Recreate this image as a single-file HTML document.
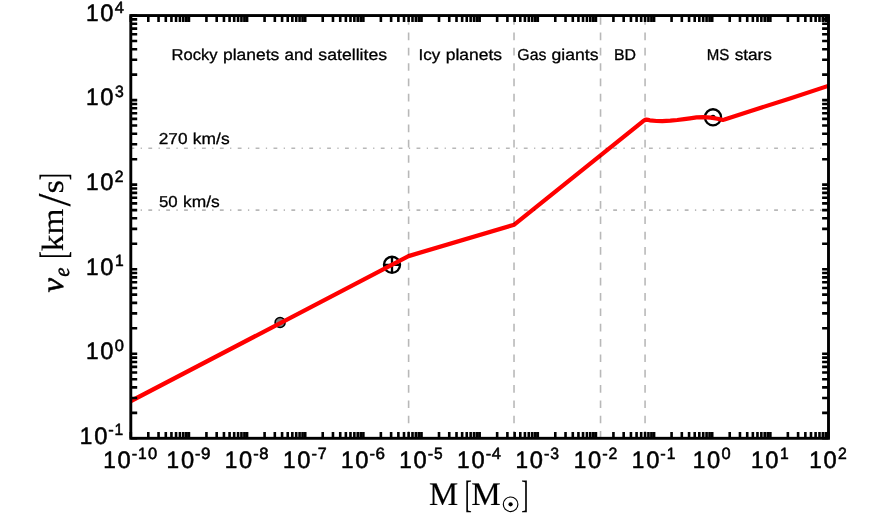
<!DOCTYPE html>
<html><head><meta charset="utf-8"><title>Escape velocity vs mass</title>
<style>
html,body{margin:0;padding:0;background:#fff;}
svg{display:block;will-change:transform;}
text{text-rendering:geometricPrecision;font-kerning:none;fill:#000;stroke:#000;stroke-width:.55px;stroke-linejoin:round;}
.sa{font-family:"Liberation Sans",sans-serif;}
.an text{stroke-width:.3px;}
.se{font-family:"Liberation Serif",serif;stroke-width:.15px;}
.si{font-family:"Liberation Serif",serif;font-style:italic;stroke-width:.45px;}
</style></head><body>
<svg width="872" height="528" viewBox="0 0 872 528">
<defs><clipPath id="ax"><rect x="130.8" y="15.55" width="697.70" height="422.75"/></clipPath></defs>
<rect width="872" height="528" fill="#fff"/>
<circle cx="280.1" cy="322.5" r="5.0" fill="#808080" stroke="#000" stroke-width="1.55"/>
<g fill="none" stroke="#000" stroke-width="2.3"><circle cx="392.0" cy="264.8" r="8.05"/><path d="M384.0,264.8H400.0M392.0,256.8V272.8"/></g>
<circle cx="713.0" cy="117.3" r="8.05" fill="none" stroke="#000" stroke-width="2.3"/><circle cx="713.0" cy="117.3" r="2.6" fill="#000"/>
<path d="M127.80,402.67 L408.50,256.10 L514.25,224.70 L642.90,121.30 L645.20,119.90 L646.30,119.60 L648.00,119.90 L649.80,120.30 L656.60,121.00 L662.20,121.20 L670.40,120.70 L677.30,120.00 L684.20,119.10 L690.00,118.30 L696.50,117.40 L703.80,117.15 L710.60,117.65 L717.50,118.75 L721.50,119.60 L723.00,119.85 L724.50,119.50 L750.00,111.20 L790.00,98.50 L831.50,84.81" fill="none" stroke="#f00" stroke-width="4.25" stroke-linejoin="round" clip-path="url(#ax)"/>
<path d="M408.61,438.7V15.55" stroke="#000" stroke-opacity="0.28" stroke-width="1.6" fill="none" stroke-dasharray="7.664 7.664"/>
<path d="M514.02,438.7V15.55" stroke="#000" stroke-opacity="0.28" stroke-width="1.6" fill="none" stroke-dasharray="7.664 7.664"/>
<path d="M600.54,438.7V15.55" stroke="#000" stroke-opacity="0.28" stroke-width="1.6" fill="none" stroke-dasharray="7.664 7.664"/>
<path d="M645.07,438.7V15.55" stroke="#000" stroke-opacity="0.28" stroke-width="1.6" fill="none" stroke-dasharray="7.664 7.664"/>
<path d="M130.45000000000002,210.10H828.5" stroke="#000" stroke-opacity="0.28" stroke-width="1.6" fill="none" stroke-dasharray="3.83 6.385 1.28 6.385"/>
<path d="M130.45000000000002,148.18H828.5" stroke="#000" stroke-opacity="0.28" stroke-width="1.6" fill="none" stroke-dasharray="3.83 6.385 1.28 6.385"/>
<path d="M130.80,438.3v-6.4M130.80,15.55v6.4M148.30,438.3v-6.4M148.30,15.55v6.4M158.54,438.3v-6.4M158.54,15.55v6.4M165.80,438.3v-6.4M165.80,15.55v6.4M171.44,438.3v-6.4M171.44,15.55v6.4M176.04,438.3v-6.4M176.04,15.55v6.4M179.94,438.3v-6.4M179.94,15.55v6.4M183.31,438.3v-6.4M183.31,15.55v6.4M186.28,438.3v-6.4M186.28,15.55v6.4M188.94,438.3v-6.4M188.94,15.55v6.4M206.44,438.3v-6.4M206.44,15.55v6.4M216.68,438.3v-6.4M216.68,15.55v6.4M223.95,438.3v-6.4M223.95,15.55v6.4M229.58,438.3v-6.4M229.58,15.55v6.4M234.18,438.3v-6.4M234.18,15.55v6.4M238.08,438.3v-6.4M238.08,15.55v6.4M241.45,438.3v-6.4M241.45,15.55v6.4M244.42,438.3v-6.4M244.42,15.55v6.4M247.08,438.3v-6.4M247.08,15.55v6.4M264.59,438.3v-6.4M264.59,15.55v6.4M274.82,438.3v-6.4M274.82,15.55v6.4M282.09,438.3v-6.4M282.09,15.55v6.4M287.72,438.3v-6.4M287.72,15.55v6.4M292.33,438.3v-6.4M292.33,15.55v6.4M296.22,438.3v-6.4M296.22,15.55v6.4M299.59,438.3v-6.4M299.59,15.55v6.4M302.56,438.3v-6.4M302.56,15.55v6.4M305.23,438.3v-6.4M305.23,15.55v6.4M322.73,438.3v-6.4M322.73,15.55v6.4M332.97,438.3v-6.4M332.97,15.55v6.4M340.23,438.3v-6.4M340.23,15.55v6.4M345.86,438.3v-6.4M345.86,15.55v6.4M350.47,438.3v-6.4M350.47,15.55v6.4M354.36,438.3v-6.4M354.36,15.55v6.4M357.73,438.3v-6.4M357.73,15.55v6.4M360.71,438.3v-6.4M360.71,15.55v6.4M363.37,438.3v-6.4M363.37,15.55v6.4M380.87,438.3v-6.4M380.87,15.55v6.4M391.11,438.3v-6.4M391.11,15.55v6.4M398.37,438.3v-6.4M398.37,15.55v6.4M404.01,438.3v-6.4M404.01,15.55v6.4M408.61,438.3v-6.4M408.61,15.55v6.4M412.50,438.3v-6.4M412.50,15.55v6.4M415.87,438.3v-6.4M415.87,15.55v6.4M418.85,438.3v-6.4M418.85,15.55v6.4M421.51,438.3v-6.4M421.51,15.55v6.4M439.01,438.3v-6.4M439.01,15.55v6.4M449.25,438.3v-6.4M449.25,15.55v6.4M456.51,438.3v-6.4M456.51,15.55v6.4M462.15,438.3v-6.4M462.15,15.55v6.4M466.75,438.3v-6.4M466.75,15.55v6.4M470.64,438.3v-6.4M470.64,15.55v6.4M474.02,438.3v-6.4M474.02,15.55v6.4M476.99,438.3v-6.4M476.99,15.55v6.4M479.65,438.3v-6.4M479.65,15.55v6.4M497.15,438.3v-6.4M497.15,15.55v6.4M507.39,438.3v-6.4M507.39,15.55v6.4M514.65,438.3v-6.4M514.65,15.55v6.4M520.29,438.3v-6.4M520.29,15.55v6.4M524.89,438.3v-6.4M524.89,15.55v6.4M528.79,438.3v-6.4M528.79,15.55v6.4M532.16,438.3v-6.4M532.16,15.55v6.4M535.13,438.3v-6.4M535.13,15.55v6.4M537.79,438.3v-6.4M537.79,15.55v6.4M555.29,438.3v-6.4M555.29,15.55v6.4M565.53,438.3v-6.4M565.53,15.55v6.4M572.80,438.3v-6.4M572.80,15.55v6.4M578.43,438.3v-6.4M578.43,15.55v6.4M583.03,438.3v-6.4M583.03,15.55v6.4M586.93,438.3v-6.4M586.93,15.55v6.4M590.30,438.3v-6.4M590.30,15.55v6.4M593.27,438.3v-6.4M593.27,15.55v6.4M595.93,438.3v-6.4M595.93,15.55v6.4M613.44,438.3v-6.4M613.44,15.55v6.4M623.67,438.3v-6.4M623.67,15.55v6.4M630.94,438.3v-6.4M630.94,15.55v6.4M636.57,438.3v-6.4M636.57,15.55v6.4M641.18,438.3v-6.4M641.18,15.55v6.4M645.07,438.3v-6.4M645.07,15.55v6.4M648.44,438.3v-6.4M648.44,15.55v6.4M651.41,438.3v-6.4M651.41,15.55v6.4M654.08,438.3v-6.4M654.08,15.55v6.4M671.58,438.3v-6.4M671.58,15.55v6.4M681.82,438.3v-6.4M681.82,15.55v6.4M689.08,438.3v-6.4M689.08,15.55v6.4M694.71,438.3v-6.4M694.71,15.55v6.4M699.32,438.3v-6.4M699.32,15.55v6.4M703.21,438.3v-6.4M703.21,15.55v6.4M706.58,438.3v-6.4M706.58,15.55v6.4M709.56,438.3v-6.4M709.56,15.55v6.4M712.22,438.3v-6.4M712.22,15.55v6.4M729.72,438.3v-6.4M729.72,15.55v6.4M739.96,438.3v-6.4M739.96,15.55v6.4M747.22,438.3v-6.4M747.22,15.55v6.4M752.86,438.3v-6.4M752.86,15.55v6.4M757.46,438.3v-6.4M757.46,15.55v6.4M761.35,438.3v-6.4M761.35,15.55v6.4M764.72,438.3v-6.4M764.72,15.55v6.4M767.70,438.3v-6.4M767.70,15.55v6.4M770.36,438.3v-6.4M770.36,15.55v6.4M787.86,438.3v-6.4M787.86,15.55v6.4M798.10,438.3v-6.4M798.10,15.55v6.4M805.36,438.3v-6.4M805.36,15.55v6.4M811.00,438.3v-6.4M811.00,15.55v6.4M815.60,438.3v-6.4M815.60,15.55v6.4M819.49,438.3v-6.4M819.49,15.55v6.4M822.87,438.3v-6.4M822.87,15.55v6.4M825.84,438.3v-6.4M825.84,15.55v6.4M828.50,438.3v-6.4M828.50,15.55v6.4M130.8,438.30h6.4M828.5,438.30h-6.4M130.8,412.85h6.4M828.5,412.85h-6.4M130.8,397.96h6.4M828.5,397.96h-6.4M130.8,387.40h6.4M828.5,387.40h-6.4M130.8,379.20h6.4M828.5,379.20h-6.4M130.8,372.51h6.4M828.5,372.51h-6.4M130.8,366.85h6.4M828.5,366.85h-6.4M130.8,361.94h6.4M828.5,361.94h-6.4M130.8,357.62h6.4M828.5,357.62h-6.4M130.8,353.75h6.4M828.5,353.75h-6.4M130.8,328.30h6.4M828.5,328.30h-6.4M130.8,313.41h6.4M828.5,313.41h-6.4M130.8,302.85h6.4M828.5,302.85h-6.4M130.8,294.65h6.4M828.5,294.65h-6.4M130.8,287.96h6.4M828.5,287.96h-6.4M130.8,282.30h6.4M828.5,282.30h-6.4M130.8,277.39h6.4M828.5,277.39h-6.4M130.8,273.07h6.4M828.5,273.07h-6.4M130.8,269.20h6.4M828.5,269.20h-6.4M130.8,243.75h6.4M828.5,243.75h-6.4M130.8,228.86h6.4M828.5,228.86h-6.4M130.8,218.30h6.4M828.5,218.30h-6.4M130.8,210.10h6.4M828.5,210.10h-6.4M130.8,203.41h6.4M828.5,203.41h-6.4M130.8,197.75h6.4M828.5,197.75h-6.4M130.8,192.84h6.4M828.5,192.84h-6.4M130.8,188.52h6.4M828.5,188.52h-6.4M130.8,184.65h6.4M828.5,184.65h-6.4M130.8,159.20h6.4M828.5,159.20h-6.4M130.8,144.31h6.4M828.5,144.31h-6.4M130.8,133.75h6.4M828.5,133.75h-6.4M130.8,125.55h6.4M828.5,125.55h-6.4M130.8,118.86h6.4M828.5,118.86h-6.4M130.8,113.20h6.4M828.5,113.20h-6.4M130.8,108.29h6.4M828.5,108.29h-6.4M130.8,103.97h6.4M828.5,103.97h-6.4M130.8,100.10h6.4M828.5,100.10h-6.4M130.8,74.65h6.4M828.5,74.65h-6.4M130.8,59.76h6.4M828.5,59.76h-6.4M130.8,49.20h6.4M828.5,49.20h-6.4M130.8,41.00h6.4M828.5,41.00h-6.4M130.8,34.31h6.4M828.5,34.31h-6.4M130.8,28.65h6.4M828.5,28.65h-6.4M130.8,23.74h6.4M828.5,23.74h-6.4M130.8,19.42h6.4M828.5,19.42h-6.4M130.8,15.55h6.4M828.5,15.55h-6.4" stroke="#000" stroke-width="2.6" fill="none"/>
<rect x="130.8" y="15.55" width="697.70" height="422.75" fill="none" stroke="#000" stroke-width="2.9"/>
<g><text class="sa" x="103.26" y="467.60" font-size="23.80" textLength="12.56" lengthAdjust="spacingAndGlyphs">1</text><text class="sa" x="117.61" y="467.60" font-size="23.80" textLength="13.19" lengthAdjust="spacingAndGlyphs">0</text><text class="sa" x="131.80" y="459.30" font-size="16.30" textLength="5.47" lengthAdjust="spacingAndGlyphs">-</text><text class="sa" x="138.09" y="459.30" font-size="16.30" textLength="8.70" lengthAdjust="spacingAndGlyphs">1</text><text class="sa" x="148.12" y="459.30" font-size="16.30" textLength="9.15" lengthAdjust="spacingAndGlyphs">0</text></g>
<g><text class="sa" x="166.52" y="467.60" font-size="23.80" textLength="12.56" lengthAdjust="spacingAndGlyphs">1</text><text class="sa" x="180.88" y="467.60" font-size="23.80" textLength="13.19" lengthAdjust="spacingAndGlyphs">0</text><text class="sa" x="195.07" y="459.30" font-size="16.30" textLength="5.47" lengthAdjust="spacingAndGlyphs">-</text><text class="sa" x="201.00" y="459.30" font-size="16.30" textLength="9.45" lengthAdjust="spacingAndGlyphs">9</text></g>
<g><text class="sa" x="224.65" y="467.60" font-size="23.80" textLength="12.56" lengthAdjust="spacingAndGlyphs">1</text><text class="sa" x="239.00" y="467.60" font-size="23.80" textLength="13.19" lengthAdjust="spacingAndGlyphs">0</text><text class="sa" x="253.19" y="459.30" font-size="16.30" textLength="5.47" lengthAdjust="spacingAndGlyphs">-</text><text class="sa" x="259.28" y="459.30" font-size="16.30" textLength="9.24" lengthAdjust="spacingAndGlyphs">8</text></g>
<g><text class="sa" x="282.92" y="467.60" font-size="23.80" textLength="12.56" lengthAdjust="spacingAndGlyphs">1</text><text class="sa" x="297.28" y="467.60" font-size="23.80" textLength="13.19" lengthAdjust="spacingAndGlyphs">0</text><text class="sa" x="311.47" y="459.30" font-size="16.30" textLength="5.47" lengthAdjust="spacingAndGlyphs">-</text><text class="sa" x="317.68" y="459.30" font-size="16.30" textLength="8.93" lengthAdjust="spacingAndGlyphs">7</text></g>
<g><text class="sa" x="340.89" y="467.60" font-size="23.80" textLength="12.56" lengthAdjust="spacingAndGlyphs">1</text><text class="sa" x="355.24" y="467.60" font-size="23.80" textLength="13.19" lengthAdjust="spacingAndGlyphs">0</text><text class="sa" x="369.43" y="459.30" font-size="16.30" textLength="5.47" lengthAdjust="spacingAndGlyphs">-</text><text class="sa" x="375.41" y="459.30" font-size="16.30" textLength="9.47" lengthAdjust="spacingAndGlyphs">6</text></g>
<g><text class="sa" x="399.22" y="467.60" font-size="23.80" textLength="12.56" lengthAdjust="spacingAndGlyphs">1</text><text class="sa" x="413.58" y="467.60" font-size="23.80" textLength="13.19" lengthAdjust="spacingAndGlyphs">0</text><text class="sa" x="427.77" y="459.30" font-size="16.30" textLength="5.47" lengthAdjust="spacingAndGlyphs">-</text><text class="sa" x="434.11" y="459.30" font-size="16.30" textLength="8.62" lengthAdjust="spacingAndGlyphs">5</text></g>
<g><text class="sa" x="457.12" y="467.60" font-size="23.80" textLength="12.56" lengthAdjust="spacingAndGlyphs">1</text><text class="sa" x="471.47" y="467.60" font-size="23.80" textLength="13.19" lengthAdjust="spacingAndGlyphs">0</text><text class="sa" x="485.66" y="459.30" font-size="16.30" textLength="5.47" lengthAdjust="spacingAndGlyphs">-</text><text class="sa" x="491.79" y="459.30" font-size="16.30" textLength="9.16" lengthAdjust="spacingAndGlyphs">4</text></g>
<g><text class="sa" x="515.45" y="467.60" font-size="23.80" textLength="12.56" lengthAdjust="spacingAndGlyphs">1</text><text class="sa" x="529.81" y="467.60" font-size="23.80" textLength="13.19" lengthAdjust="spacingAndGlyphs">0</text><text class="sa" x="543.99" y="459.30" font-size="16.30" textLength="5.47" lengthAdjust="spacingAndGlyphs">-</text><text class="sa" x="550.33" y="459.30" font-size="16.30" textLength="8.77" lengthAdjust="spacingAndGlyphs">3</text></g>
<g><text class="sa" x="573.75" y="467.60" font-size="23.80" textLength="12.56" lengthAdjust="spacingAndGlyphs">1</text><text class="sa" x="588.11" y="467.60" font-size="23.80" textLength="13.19" lengthAdjust="spacingAndGlyphs">0</text><text class="sa" x="602.30" y="459.30" font-size="16.30" textLength="5.47" lengthAdjust="spacingAndGlyphs">-</text><text class="sa" x="608.39" y="459.30" font-size="16.30" textLength="8.80" lengthAdjust="spacingAndGlyphs">2</text></g>
<g><text class="sa" x="631.83" y="467.60" font-size="23.80" textLength="12.56" lengthAdjust="spacingAndGlyphs">1</text><text class="sa" x="646.19" y="467.60" font-size="23.80" textLength="13.19" lengthAdjust="spacingAndGlyphs">0</text><text class="sa" x="660.37" y="459.30" font-size="16.30" textLength="5.47" lengthAdjust="spacingAndGlyphs">-</text><text class="sa" x="666.66" y="459.30" font-size="16.30" textLength="8.70" lengthAdjust="spacingAndGlyphs">1</text></g>
<g><text class="sa" x="692.65" y="467.60" font-size="23.80" textLength="12.56" lengthAdjust="spacingAndGlyphs">1</text><text class="sa" x="707.01" y="467.60" font-size="23.80" textLength="13.19" lengthAdjust="spacingAndGlyphs">0</text><text class="sa" x="721.56" y="459.30" font-size="16.30" textLength="9.15" lengthAdjust="spacingAndGlyphs">0</text></g>
<g><text class="sa" x="751.00" y="467.60" font-size="23.80" textLength="12.56" lengthAdjust="spacingAndGlyphs">1</text><text class="sa" x="765.36" y="467.60" font-size="23.80" textLength="13.19" lengthAdjust="spacingAndGlyphs">0</text><text class="sa" x="780.06" y="459.30" font-size="16.30" textLength="8.70" lengthAdjust="spacingAndGlyphs">1</text></g>
<g><text class="sa" x="809.20" y="467.60" font-size="23.80" textLength="12.56" lengthAdjust="spacingAndGlyphs">1</text><text class="sa" x="823.56" y="467.60" font-size="23.80" textLength="13.19" lengthAdjust="spacingAndGlyphs">0</text><text class="sa" x="838.07" y="459.30" font-size="16.30" textLength="8.80" lengthAdjust="spacingAndGlyphs">2</text></g>
<g><text class="sa" x="79.78" y="443.60" font-size="23.80" textLength="12.56" lengthAdjust="spacingAndGlyphs">1</text><text class="sa" x="94.14" y="443.60" font-size="23.80" textLength="13.19" lengthAdjust="spacingAndGlyphs">0</text><text class="sa" x="108.32" y="435.30" font-size="16.30" textLength="5.47" lengthAdjust="spacingAndGlyphs">-</text><text class="sa" x="114.61" y="435.30" font-size="16.30" textLength="8.70" lengthAdjust="spacingAndGlyphs">1</text></g>
<g><text class="sa" x="85.98" y="359.05" font-size="23.80" textLength="12.56" lengthAdjust="spacingAndGlyphs">1</text><text class="sa" x="100.34" y="359.05" font-size="23.80" textLength="13.19" lengthAdjust="spacingAndGlyphs">0</text><text class="sa" x="114.89" y="350.75" font-size="16.30" textLength="9.15" lengthAdjust="spacingAndGlyphs">0</text></g>
<g><text class="sa" x="85.98" y="274.50" font-size="23.80" textLength="12.56" lengthAdjust="spacingAndGlyphs">1</text><text class="sa" x="100.34" y="274.50" font-size="23.80" textLength="13.19" lengthAdjust="spacingAndGlyphs">0</text><text class="sa" x="115.04" y="266.20" font-size="16.30" textLength="8.70" lengthAdjust="spacingAndGlyphs">1</text></g>
<g><text class="sa" x="85.98" y="189.95" font-size="23.80" textLength="12.56" lengthAdjust="spacingAndGlyphs">1</text><text class="sa" x="100.34" y="189.95" font-size="23.80" textLength="13.19" lengthAdjust="spacingAndGlyphs">0</text><text class="sa" x="114.85" y="181.65" font-size="16.30" textLength="8.80" lengthAdjust="spacingAndGlyphs">2</text></g>
<g><text class="sa" x="85.98" y="105.40" font-size="23.80" textLength="12.56" lengthAdjust="spacingAndGlyphs">1</text><text class="sa" x="100.34" y="105.40" font-size="23.80" textLength="13.19" lengthAdjust="spacingAndGlyphs">0</text><text class="sa" x="115.09" y="97.10" font-size="16.30" textLength="8.77" lengthAdjust="spacingAndGlyphs">3</text></g>
<g><text class="sa" x="85.98" y="20.85" font-size="23.80" textLength="12.56" lengthAdjust="spacingAndGlyphs">1</text><text class="sa" x="100.34" y="20.85" font-size="23.80" textLength="13.19" lengthAdjust="spacingAndGlyphs">0</text><text class="sa" x="114.88" y="12.55" font-size="16.30" textLength="9.16" lengthAdjust="spacingAndGlyphs">4</text></g>
<g class="an"><text class="sa" x="171.59" y="59.90" font-size="15.80" textLength="45.94" lengthAdjust="spacingAndGlyphs">Rocky</text><text class="sa" x="223.06" y="59.90" font-size="15.80" textLength="56.26" lengthAdjust="spacingAndGlyphs">planets</text><text class="sa" x="284.47" y="59.90" font-size="15.80" textLength="28.44" lengthAdjust="spacingAndGlyphs">and</text><text class="sa" x="318.37" y="59.90" font-size="15.80" textLength="68.72" lengthAdjust="spacingAndGlyphs">satellites</text></g>
<g class="an"><text class="sa" x="418.48" y="59.90" font-size="15.80" textLength="21.74" lengthAdjust="spacingAndGlyphs">Icy</text><text class="sa" x="445.74" y="59.90" font-size="15.80" textLength="56.26" lengthAdjust="spacingAndGlyphs">planets</text></g>
<g class="an"><text class="sa" x="517.35" y="59.90" font-size="15.80" textLength="29.11" lengthAdjust="spacingAndGlyphs">Gas</text><text class="sa" x="551.57" y="59.90" font-size="15.80" textLength="46.99" lengthAdjust="spacingAndGlyphs">giants</text></g>
<g class="an"><text class="sa" x="613.95" y="59.90" font-size="15.80" textLength="22.05" lengthAdjust="spacingAndGlyphs">BD</text></g>
<g class="an"><text class="sa" x="706.71" y="59.90" font-size="15.80" textLength="22.60" lengthAdjust="spacingAndGlyphs">MS</text><text class="sa" x="734.66" y="59.90" font-size="15.80" textLength="37.30" lengthAdjust="spacingAndGlyphs">stars</text></g>
<g class="an"><text class="sa" x="158.73" y="144.10" font-size="15.80" textLength="28.74" lengthAdjust="spacingAndGlyphs">270</text><text class="sa" x="192.88" y="144.10" font-size="15.80" textLength="36.72" lengthAdjust="spacingAndGlyphs">km/s</text></g>
<g class="an"><text class="sa" x="158.98" y="207.10" font-size="15.80" textLength="18.71" lengthAdjust="spacingAndGlyphs">50</text><text class="sa" x="183.10" y="207.10" font-size="15.80" textLength="36.72" lengthAdjust="spacingAndGlyphs">km/s</text></g>
<text class="se" x="428.95" y="504.60" font-size="33.00" textLength="29.21" lengthAdjust="spacingAndGlyphs">M</text>
<text class="se" x="471.34" y="504.60" font-size="33.00" textLength="29.53" lengthAdjust="spacingAndGlyphs">M</text>
<text class="se" x="464.83" y="506.95" font-size="38.20" textLength="7.03" lengthAdjust="spacingAndGlyphs">[</text>
<text class="se" x="521.22" y="506.95" font-size="38.20" textLength="7.18" lengthAdjust="spacingAndGlyphs">]</text>
<circle cx="510.6" cy="504.3" r="7.3" fill="none" stroke="#000" stroke-width="1.15"/><circle cx="510.6" cy="504.3" r="2.1" fill="#000"/>
<g transform="translate(63.2,292.3) rotate(-90)">
<text class="si" x="-0.15" y="0.00" font-size="31.50" textLength="14.55" lengthAdjust="spacingAndGlyphs">v</text>
<text class="si" x="15.45" y="5.30" font-size="22.00" textLength="9.32" lengthAdjust="spacingAndGlyphs">e</text>
<text class="se" x="33.70" y="2.40" font-size="38.20" textLength="7.18" lengthAdjust="spacingAndGlyphs">[</text>
<text class="se" x="41.16" y="0.00" font-size="30.80" textLength="16.74" lengthAdjust="spacingAndGlyphs">k</text>
<text class="se" x="57.80" y="0.00" font-size="30.80" textLength="25.92" lengthAdjust="spacingAndGlyphs">m</text>
<text class="se" x="85.70" y="6.90" font-size="47.00" textLength="12.90" lengthAdjust="spacingAndGlyphs">/</text>
<text class="se" x="98.87" y="0.00" font-size="30.80" textLength="13.60" lengthAdjust="spacingAndGlyphs">s</text>
<text class="se" x="112.14" y="2.40" font-size="38.20" textLength="7.03" lengthAdjust="spacingAndGlyphs">]</text>
</g>
</svg>
</body></html>
